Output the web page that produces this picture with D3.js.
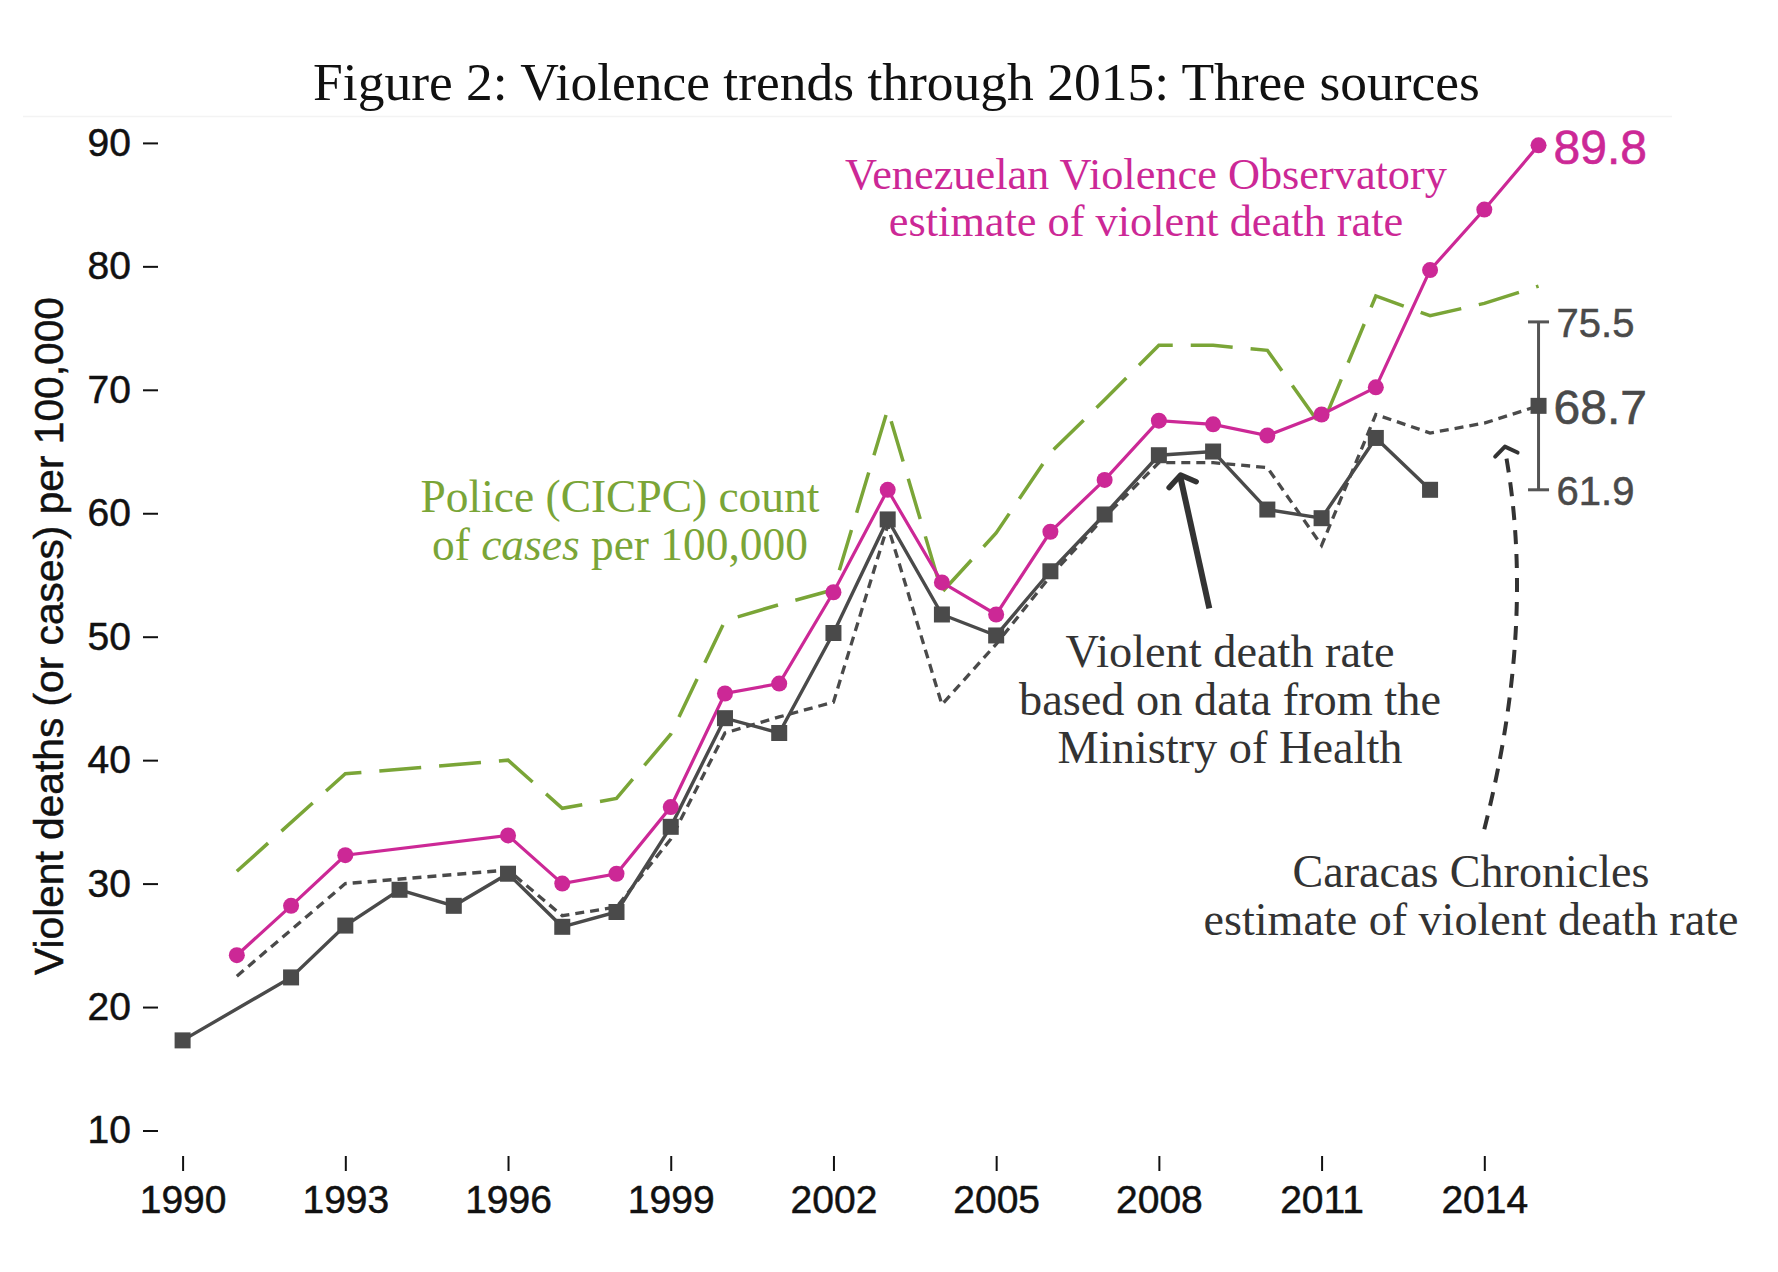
<!DOCTYPE html>
<html><head><meta charset="utf-8">
<script src="https://cdn.jsdelivr.net/npm/d3@7"></script>
<style>body{margin:0;background:#fff}</style>
</head><body>
<svg id="chart" width="1778" height="1272"></svg>
<script>
// ---------------- DATA ----------------
const years = [1990,1991,1992,1993,1994,1995,1996,1997,1998,1999,2000,2001,2002,
               2003,2004,2005,2006,2007,2008,2009,2010,2011,2012,2013,2014,2015];
// Venezuelan Violence Observatory (pink)
const vvoRate = [null,24.2,28.2,32.3,null,null,33.9,30.0,30.8,36.2,45.4,46.2,53.6,
                 61.9,54.4,51.8,58.5,62.7,67.5,67.2,66.3,68.0,70.2,79.7,84.6,89.8];
// Ministry of Health (gray, squares)
const mohRate = [17.3,null,22.4,26.6,29.5,28.2,30.8,26.5,27.7,34.6,43.4,42.2,50.3,
                 59.5,51.8,50.1,55.3,59.9,64.7,65.0,60.3,59.6,66.1,61.9,null,null];
// Caracas Chronicles (gray dotted)
const ccRate = [null,22.5,null,30.0,null,null,31.1,27.4,28.1,33.6,42.2,43.5,44.7,
                59.0,44.5,49.4,54.9,59.7,64.1,64.1,63.7,57.4,68.0,66.5,67.3,68.7];
// Police CICPC cases (green dashed)
const policeRate = [null,31.0,null,38.9,null,null,40.0,36.1,36.9,42.1,51.3,52.6,53.8,
                    68.4,53.6,58.4,64.9,69.2,73.6,73.6,73.2,67.0,77.6,76.0,77.0,78.4];
// Caracas Chronicles 2015 estimate with range
const ccEstYear = [2015];
const ccEstValue = [68.7];
const ccEstLow = [61.9];
const ccEstHigh = [75.5];

const xTicks = [1990,1993,1996,1999,2002,2005,2008,2011,2014];
const yTicks = [10,20,30,40,50,60,70,80,90];

const titleText = "Figure 2: Violence trends through 2015: Three sources";
const yTitleText = "Violent deaths (or cases) per 100,000";
const vvoLabel = ["Venezuelan Violence Observatory", "estimate of violent death rate"];
const mohLabel = ["Violent death rate", "based on data from the", "Ministry of Health"];
const ccLabel = ["Caracas Chronicles", "estimate of violent death rate"];

// ---------------- STYLE ----------------
const PINK = "#cc2896", GREEN = "#7aa537", GRAY = "#4a4a4a", DARK = "#333333";
const SERIF = "'Liberation Serif', 'DejaVu Serif', serif";
const SANS = "'Liberation Sans', Arial, sans-serif";

const svg = d3.select("#chart");
const x = d3.scaleLinear().domain([1990, 2014]).range([182.6, 1484.3]);
const y = d3.scaleLinear().domain([10, 90]).range([1130.5, 142.9]);

// faint panel edge
svg.append("line").attr("x1", 23).attr("x2", 1672).attr("y1", 116.5).attr("y2", 116.5)
  .attr("stroke", "#f3f3f3").attr("stroke-width", 1.5);

function fitText(sel, target) {
  const base = 40;
  sel.attr("font-size", base);
  const w = sel.node().getComputedTextLength();
  const fs = base * target / w;
  sel.attr("font-size", fs);
  return fs;
}

// Title
const title = svg.append("text").attr("x", 896.5).attr("y", 100)
  .attr("text-anchor", "middle").attr("font-family", SERIF).attr("fill", "#111")
  .text(titleText);
fitText(title, 1167);

// Axes
const yAxis = svg.append("g").attr("transform", "translate(158,0)")
  .call(d3.axisLeft(y).tickValues(yTicks).tickSize(15).tickPadding(12));
const xAxis = svg.append("g").attr("transform", "translate(0,1156)")
  .call(d3.axisBottom(x).tickValues(xTicks).tickFormat(d3.format("d")).tickSize(15).tickPadding(14));
[yAxis, xAxis].forEach(g => {
  g.select(".domain").remove();
  g.selectAll(".tick line").attr("stroke", "#111").attr("stroke-width", 2);
  g.selectAll(".tick text").attr("font-family", SANS).attr("font-size", 39).attr("fill", "#111")
    .attr("stroke", "#111").attr("stroke-width", 0.5);
});

// Y title
const yTitle = svg.append("text").attr("transform", "translate(63,636) rotate(-90)")
  .attr("text-anchor", "middle").attr("font-family", SANS).attr("fill", "#111")
  .attr("stroke", "#111").attr("stroke-width", 0.5)
  .text(yTitleText);
fitText(yTitle, 678);

// Series
function pts(vals) {
  return years.map((yr, i) => ({yr, v: vals[i]})).filter(d => d.v !== null);
}
const line = d3.line().x(d => x(d.yr)).y(d => y(d.v));

svg.append("path").datum(pts(policeRate)).attr("d", line).attr("fill", "none")
  .attr("stroke", GREEN).attr("stroke-width", 3.5).attr("stroke-dasharray", "42,18");
svg.append("path").datum(pts(ccRate)).attr("d", line).attr("fill", "none")
  .attr("stroke", GRAY).attr("stroke-width", 3.3).attr("stroke-dasharray", "9,6");
svg.append("path").datum(pts(mohRate)).attr("d", line).attr("fill", "none")
  .attr("stroke", GRAY).attr("stroke-width", 3.4);
svg.append("path").datum(pts(vvoRate)).attr("d", line).attr("fill", "none")
  .attr("stroke", PINK).attr("stroke-width", 3.2);

// error bar for CC estimate
const est = ccEstYear.map((yr, i) => ({yr, v: ccEstValue[i], lo: ccEstLow[i], hi: ccEstHigh[i]}));
const eb = svg.append("g").selectAll("g").data(est).join("g");
eb.append("line").attr("x1", d => x(d.yr)).attr("x2", d => x(d.yr))
  .attr("y1", d => y(d.lo)).attr("y2", d => y(d.hi)).attr("stroke", "#555").attr("stroke-width", 3);
["lo", "hi"].forEach(k => {
  eb.append("line").attr("x1", d => x(d.yr) - 10.5).attr("x2", d => x(d.yr) + 10.5)
    .attr("y1", d => y(d[k])).attr("y2", d => y(d[k])).attr("stroke", "#555").attr("stroke-width", 3);
});

// markers
const SQ = 16;
svg.append("g").selectAll("rect").data(pts(mohRate).concat(est)).join("rect")
  .attr("x", d => x(d.yr) - SQ/2).attr("y", d => y(d.v) - SQ/2)
  .attr("width", SQ).attr("height", SQ).attr("fill", GRAY);
svg.append("g").selectAll("circle").data(pts(vvoRate)).join("circle")
  .attr("cx", d => x(d.yr)).attr("cy", d => y(d.v)).attr("r", 8).attr("fill", PINK);

// value labels
const fmt = d3.format(".1f");
const vvoLast = pts(vvoRate).slice(-1)[0];
svg.append("text").attr("x", x(vvoLast.yr) + 15).attr("y", y(vvoLast.v) + 0.38*48)
  .attr("font-family", SANS).attr("font-size", 48).attr("fill", PINK)
  .attr("stroke", PINK).attr("stroke-width", 0.6).text(fmt(vvoLast.v));
est.forEach(d => {
  svg.append("text").attr("x", x(d.yr) + 15).attr("y", y(d.v) + 0.38*48)
    .attr("font-family", SANS).attr("font-size", 48).attr("fill", GRAY)
    .attr("stroke", GRAY).attr("stroke-width", 0.6).text(fmt(d.v));
  [d.hi, d.lo].forEach(v => {
    svg.append("text").attr("x", x(d.yr) + 18).attr("y", y(v) + 0.38*40)
      .attr("font-family", SANS).attr("font-size", 40).attr("fill", GRAY)
      .attr("stroke", GRAY).attr("stroke-width", 0.5).text(fmt(v));
  });
});

// annotation text blocks
function block(n, cx, baselines, color) {
  const g = svg.append("g");
  const ts = d3.range(n).map(i => g.append("text").attr("x", cx).attr("y", baselines[i])
    .attr("text-anchor", "middle").attr("font-family", SERIF).attr("fill", color));
  return {g, ts};
}
// VVO
{
  const b = block(vvoLabel.length, 1146, [189, 236], PINK);
  b.ts.forEach((t, i) => t.text(vvoLabel[i]));
  const fs = fitText(b.ts[0], 602);
  b.ts.forEach(t => t.attr("font-size", fs));
}
// Police
{
  const b = block(2, 620, [512, 560], GREEN);
  b.ts[0].text("Police (CICPC) count");
  b.ts[1].append("tspan").text("of ");
  b.ts[1].append("tspan").attr("font-style", "italic").text("cases");
  b.ts[1].append("tspan").text(" per 100,000");
  const fs = fitText(b.ts[0], 399);
  b.ts.forEach(t => t.attr("font-size", fs));
}
// MoH
{
  const b = block(mohLabel.length, 1230, [667, 715, 763], DARK);
  b.ts.forEach((t, i) => t.text(mohLabel[i]));
  const fs = fitText(b.ts[1], 422);
  b.ts.forEach(t => t.attr("font-size", fs));
}
// CC
{
  const b = block(ccLabel.length, 1471, [887, 935], DARK);
  b.ts.forEach((t, i) => t.text(ccLabel[i]));
  const fs = fitText(b.ts[1], 535);
  b.ts.forEach(t => t.attr("font-size", fs));
}

// arrows (positions in data space)
const arrowMoH = {from: [2008.93, 52.3], to: [2008.40, 63.1]};
const arrowCC = {from: [2014.0, 34.4], ctrl: [2014.97, 51.2], to: [2014.38, 65.4]};

function chevron(tip, dx, dy, len, ang) {
  const n = Math.hypot(dx, dy); dx /= n; dy /= n;
  const arm = s => {
    const a = Math.PI + s * ang;
    const rx = dx * Math.cos(a) - dy * Math.sin(a);
    const ry = dx * Math.sin(a) + dy * Math.cos(a);
    return [tip[0] + len * rx, tip[1] + len * ry];
  };
  const p1 = arm(1), p2 = arm(-1);
  return `M${p1[0]},${p1[1]}L${tip[0]},${tip[1]}L${p2[0]},${p2[1]}`;
}
{
  const p0 = [x(arrowMoH.from[0]), y(arrowMoH.from[1])];
  const p1 = [x(arrowMoH.to[0]), y(arrowMoH.to[1])];
  svg.append("line").attr("x1", p0[0]).attr("y1", p0[1]).attr("x2", p1[0]).attr("y2", p1[1] + 3)
    .attr("stroke", DARK).attr("stroke-width", 6);
  svg.append("path").attr("d", chevron(p1, p1[0]-p0[0], p1[1]-p0[1], 17, 0.95))
    .attr("fill", "none").attr("stroke", DARK).attr("stroke-width", 5.5)
    .attr("stroke-linecap", "round").attr("stroke-linejoin", "round");
}
{
  const p0 = [x(arrowCC.from[0]), y(arrowCC.from[1])];
  const c = [x(arrowCC.ctrl[0]), y(arrowCC.ctrl[1])];
  const p1 = [x(arrowCC.to[0]), y(arrowCC.to[1])];
  const path = d3.path();
  path.moveTo(p0[0], p0[1]);
  path.quadraticCurveTo(c[0], c[1], p1[0], p1[1] + 3);
  svg.append("path").attr("d", path.toString()).attr("fill", "none")
    .attr("stroke", DARK).attr("stroke-width", 4).attr("stroke-dasharray", "14,10");
  svg.append("path").attr("d", chevron(p1, p1[0]-c[0], p1[1]-c[1], 14, 0.95))
    .attr("fill", "none").attr("stroke", DARK).attr("stroke-width", 4)
    .attr("stroke-linecap", "round").attr("stroke-linejoin", "round");
}
</script>
</body></html>
